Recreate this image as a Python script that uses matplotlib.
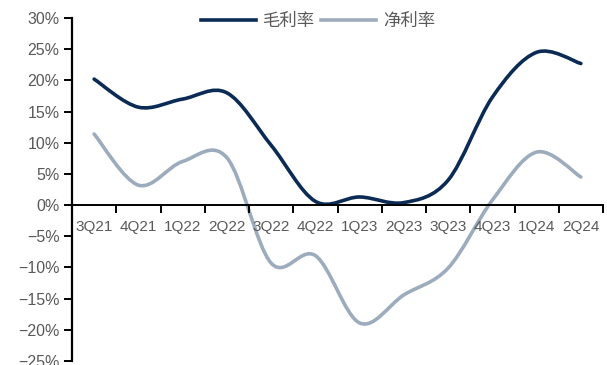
import numpy as np
import matplotlib.pyplot as plt
from matplotlib.path import Path
from matplotlib.patches import PathPatch
from matplotlib.lines import Line2D
from matplotlib.ticker import FuncFormatter, FixedLocator

# 数据
quarters = ["3Q21", "4Q21", "1Q22", "2Q22", "3Q22", "4Q22",
            "1Q23", "2Q23", "3Q23", "4Q23", "1Q24", "2Q24"]
gross_margin = [20.2, 15.7, 17.0, 18.0, 9.6, 0.6, 1.3, 0.4, 4.0, 17.3, 24.5, 22.7]
net_margin = [11.4, 3.2, 7.0, 7.6, -9.3, -8.1, -18.9, -14.4, -10.1, 0.8, 8.5, 4.5]

cor_bruto = "#0b2b55"
cor_liquido = "#9dacbd"
cor_texto = "#595959"

plt.rcParams['font.family'] = ['Liberation Sans', 'Noto Sans CJK SC', 'DejaVu Sans']


# Curva suavizada estilo Excel (Bezier cúbica pelos pontos)
def caminho_suave(xs, ys):
    pts = np.column_stack([xs, ys]).astype(float)
    n = len(pts)
    verts = [pts[0]]
    codes = [Path.MOVETO]
    for i in range(n - 1):
        p0 = pts[i - 1] if i > 0 else pts[i]
        p1 = pts[i]
        p2 = pts[i + 1]
        p3 = pts[i + 2] if i + 2 < n else pts[i + 1]
        c1 = p1 + (p2 - p0) / 6.0
        c2 = p2 - (p3 - p1) / 6.0
        verts += [c1, c2, p2]
        codes += [Path.CURVE4] * 3
    return Path(verts, codes)


fig = plt.figure(figsize=(6.07, 3.65), dpi=100)
ax = fig.add_axes([72 / 607, 1 - 361 / 365, (603 - 72) / 607, (361 - 18) / 365])

x = np.arange(len(quarters))
for serie, cor in [(gross_margin, cor_bruto), (net_margin, cor_liquido)]:
    ax.add_patch(PathPatch(caminho_suave(x, serie), facecolor="none",
                           edgecolor=cor, lw=2.6, capstyle="round"))

ax.set_xlim(-0.5, len(quarters) - 0.5)
ax.set_ylim(-25, 30)
ax.set_yticks(np.arange(-25, 31, 5))
ax.yaxis.set_major_formatter(FuncFormatter(lambda v, p: f"{v:.0f}%".replace("-", "\u2212")))

# Eixo x no zero, ticks nas fronteiras das categorias
ax.spines['bottom'].set_position(('data', 0))
ax.spines['top'].set_visible(False)
ax.spines['right'].set_visible(False)
ax.spines['left'].set_linewidth(1.6)
ax.spines['bottom'].set_linewidth(1.4)
ax.set_xticks(x)
ax.set_xticklabels(quarters)
ax.xaxis.set_minor_locator(FixedLocator(np.arange(0.5, len(quarters) + 0.5, 1)))
ax.tick_params(axis='x', which='major', length=0, pad=11, labelsize=11, labelcolor=cor_texto)
ax.tick_params(axis='x', which='minor', length=6, width=1.4, direction='out')
ax.tick_params(axis='y', length=6, width=1.4, direction='out', labelsize=11.5,
               labelcolor=cor_texto, pad=3)

handles = [Line2D([], [], color=cor_bruto, lw=2.6),
           Line2D([], [], color=cor_liquido, lw=2.6)]
fig.legend(handles, ["毛利率", "净利率"], loc="center", bbox_to_anchor=(318 / 607, 1 - 21 / 365),
           ncol=2, frameon=False, handlelength=3.2, handletextpad=0.4, columnspacing=0.3,
           prop={'family': ['Noto Sans CJK SC', 'DejaVu Sans'], 'size': 12.5},
           labelcolor=cor_texto)

fig.savefig("out.png", dpi=100, facecolor="white")
